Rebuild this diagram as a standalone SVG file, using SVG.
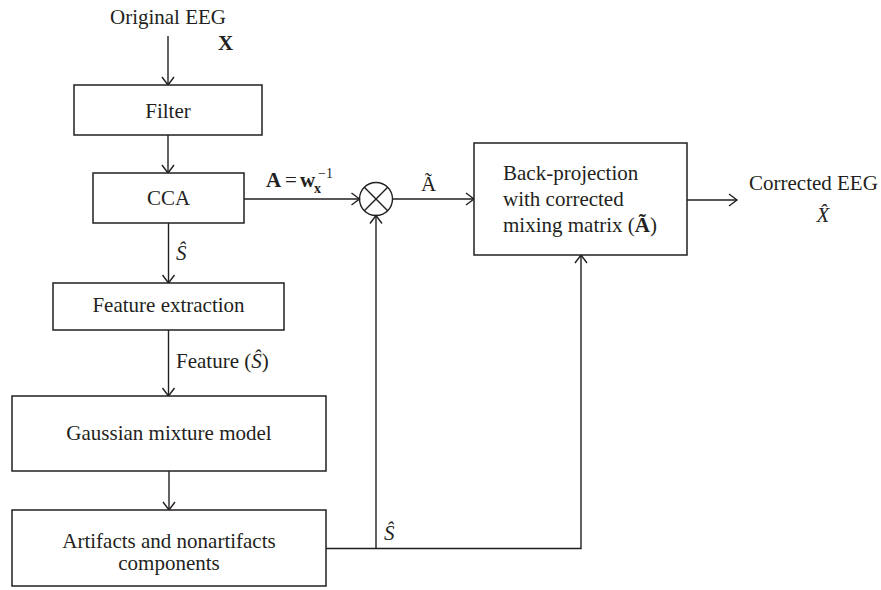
<svg xmlns="http://www.w3.org/2000/svg" width="881" height="590" viewBox="0 0 881 590">
<style>
.box{fill:#fff;stroke:#231f20;stroke-width:1.5}
.ln{fill:none;stroke:#231f20;stroke-width:1.4}
.t{font-family:"Liberation Serif","Times New Roman",serif;font-size:21px;fill:#231f20}
.c{text-anchor:middle}
.i{font-style:italic}
.b{font-weight:bold}
.s{font-size:14px}
</style>
<defs>
<marker id="ah" markerUnits="userSpaceOnUse" markerWidth="12" markerHeight="14" refX="9" refY="7" orient="auto" overflow="visible">
<path d="M1,1 L9,7 L1,13" fill="none" stroke="#231f20" stroke-width="1.4"/>
</marker>
</defs>
<rect width="881" height="590" fill="#fff"/>
<g id="connectors">
<line class="ln" x1="168" y1="36" x2="168" y2="85" marker-end="url(#ah)"/>
<line class="ln" x1="168" y1="135" x2="168" y2="173" marker-end="url(#ah)"/>
<line class="ln" x1="168.5" y1="223" x2="168.5" y2="283" marker-end="url(#ah)"/>
<line class="ln" x1="168.5" y1="330" x2="168.5" y2="396" marker-end="url(#ah)"/>
<line class="ln" x1="169" y1="471" x2="169" y2="510" marker-end="url(#ah)"/>
<line class="ln" x1="244" y1="199" x2="359.5" y2="199" marker-end="url(#ah)"/>
<line class="ln" x1="392.5" y1="199" x2="474" y2="199" marker-end="url(#ah)"/>
<line class="ln" x1="687" y1="200" x2="737" y2="200" marker-end="url(#ah)"/>
<polyline class="ln" points="326,548.5 581,548.5 581,255" marker-end="url(#ah)"/>
<line class="ln" x1="376" y1="548.5" x2="376" y2="215.5" marker-end="url(#ah)"/>
</g>
<g id="input">
<text class="t c" x="168" y="24">Original EEG</text>
<text class="t b" x="218" y="50">X</text>
</g>
<g id="filter">
<rect class="box" x="74" y="85" width="188" height="50"/>
<text class="t c" x="168" y="118">Filter</text>
</g>
<g id="cca">
<rect class="box" x="93" y="173" width="151" height="50"/>
<text class="t c" x="168.5" y="205">CCA</text>
<text class="t"><tspan class="b" x="266" y="187">A</tspan><tspan x="285" y="187">=</tspan><tspan class="b" x="300" y="187">w</tspan><tspan class="b s" x="314" y="193">x</tspan><tspan class="s" x="318" y="178">−1</tspan></text>
</g>
<g id="multiplier">
<circle class="ln" cx="376" cy="199" r="16.5" fill="#fff"/>
<line class="ln" x1="364.3" y1="187.3" x2="387.7" y2="210.7"/>
<line class="ln" x1="387.7" y1="187.3" x2="364.3" y2="210.7"/>
<text class="t" x="421" y="191">Ã</text>
</g>
<g id="backprojection">
<rect class="box" x="474" y="143" width="213" height="112"/>
<text class="t" x="503" y="180">Back-projection</text>
<text class="t" x="503" y="206">with corrected</text>
<text class="t" x="503" y="232">mixing matrix (<tspan class="b">Ã</tspan>)</text>
</g>
<g id="output">
<text class="t" x="749" y="190">Corrected EEG</text>
<text class="t i c" x="823" y="222">X̂</text>
</g>
<g id="feature">
<text class="t i" x="176" y="260">Ŝ</text>
<rect class="box" x="53" y="283" width="231" height="47"/>
<text class="t c" x="168.5" y="312">Feature extraction</text>
<text class="t" x="176" y="368">Feature (<tspan class="i">Ŝ</tspan>)</text>
</g>
<g id="gmm">
<rect class="box" x="12" y="396" width="314" height="75"/>
<text class="t c" x="169" y="440">Gaussian mixture model</text>
</g>
<g id="artifacts">
<rect class="box" x="12" y="510" width="314" height="76"/>
<text class="t c" x="169" y="548">Artifacts and nonartifacts</text>
<text class="t c" x="169" y="570">components</text>
<text class="t i" x="384" y="540">Ŝ</text>
</g>
</svg>
